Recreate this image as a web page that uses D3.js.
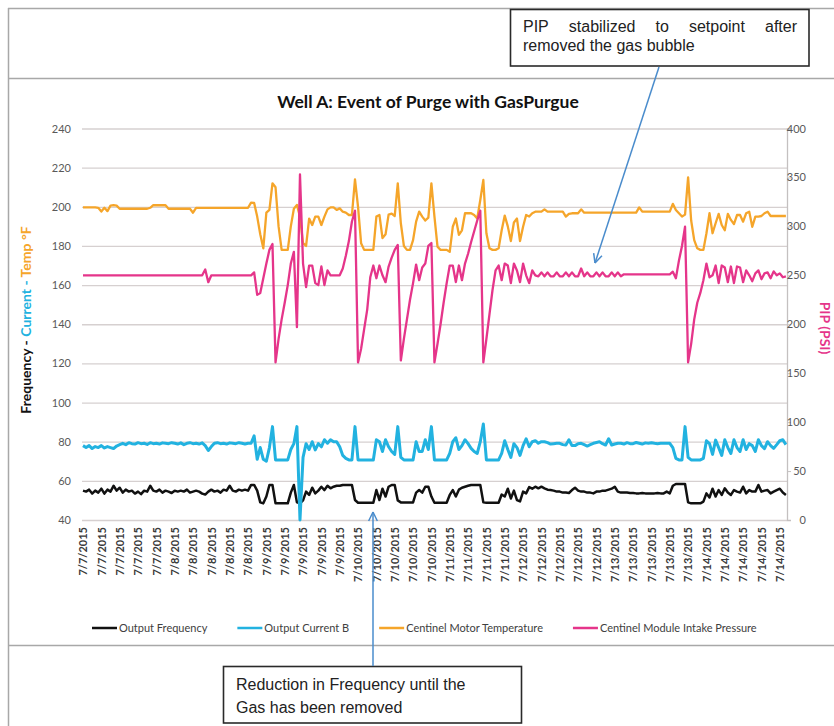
<!DOCTYPE html>
<html><head><meta charset="utf-8">
<script src="https://cdn.jsdelivr.net/npm/d3@7/dist/d3.min.js"></script>
<style>body{margin:0;background:#fff}svg{display:block}</style>
</head><body>
<svg id="c" width="834" height="726"></svg>
<script>
// ---------------- DATA ----------------
const tickLabels = [
"7/7/2015","7/7/2015","7/7/2015","7/7/2015","7/7/2015",
"7/8/2015","7/8/2015","7/8/2015","7/8/2015","7/8/2015",
"7/9/2015","7/9/2015","7/9/2015","7/9/2015","7/9/2015",
"7/10/2015","7/10/2015","7/10/2015","7/10/2015","7/10/2015",
"7/11/2015","7/11/2015","7/11/2015","7/11/2015",
"7/12/2015","7/12/2015","7/12/2015","7/12/2015","7/12/2015",
"7/13/2015","7/13/2015","7/13/2015","7/13/2015","7/13/2015",
"7/14/2015","7/14/2015","7/14/2015","7/14/2015","7/14/2015"];
const labelEvery = 6; // one date label every 6 readings

const leftTicks = [40,60,80,100,120,140,160,180,200,220,240];
const rightTicks = [0,50,100,150,200,250,300,350,400];

// Output Frequency (Hz) - left axis
const outputFrequency = [
55,54.5,55.5,53.5,55,54,56,53.5,55.5,54.5,
57.5,55,56.5,54,55.5,54.5,55,53.5,54.5,53.2,
55,54.5,57.5,55,54.5,55.5,54,55,54.5,53.8,
55,54.5,55,54.5,55.5,54,54.5,55,54.5,53.5,
53,54.5,55.5,54.5,55,54,55.5,55,57.5,55,
54.5,55.5,55,55.5,55,57.9,57.9,55,49,48.5,
52,57.9,57.9,48.5,48.5,48.5,48.5,48.5,54,57.9,
49,48.5,50,54.5,52.8,56.5,53.6,55,57,55.3,
57.5,56.2,57,57.5,57.5,57.9,57.9,57.9,57.9,50.2,
48.8,48.8,48.8,48.8,48.8,48.8,55.3,50.2,56,52,
57,57.9,57.9,50,49,49,49,49,49,54,
55.3,54,57,57,52,48.8,48.8,48.8,48.8,48.8,
52.8,55.3,52,55.5,56.5,57,57.5,57.9,57.9,57.9,
57.9,49,48.8,48.8,48.8,48.8,48.8,53,52,56,
51,55,50.2,49.5,54.5,53.6,56.8,56,57,56.2,
57,56.2,55.5,55.3,55,54.5,54.5,54,54,53.8,
55.3,56.5,55,54.5,54.5,54,54,53.6,54.5,54.5,
55,55,55.5,56,57,54.5,54,54,54,53.8,
53.8,53.6,53.6,53.8,53.6,53.6,53.6,53.6,53.8,53.6,
53.6,54.5,53.6,57.5,58.4,58.4,58.4,58.4,49,48.5,
48.5,48.5,48.5,49.4,53.6,51.5,56,52,55.3,52.8,
56.2,54,52.8,55.3,54.5,54,57,53.6,55.3,54.5,
54.5,57.9,54.5,55,55.3,53.6,54.5,55.3,56,54,
52.8];

// Output Current B (A) - left axis
const outputCurrentB = [
78,77,78,76.5,77.5,77,78,76.8,77.5,77,
76.5,77.8,78.5,79.2,78.5,79.5,79,78.8,79.5,79,
79.2,78.6,79.5,79,79.2,78.8,79.4,79.2,79,79.5,
79.2,78.8,79.4,78.5,79.2,79.5,79,79.2,78.8,79.4,
78,75.5,77.5,79.2,79.5,79,79.2,78.8,79.4,79.2,
79,79.5,79.2,78.8,79.2,79.2,83,71,77,71,
70,77,87.7,70.7,70.7,70.7,70.7,70.7,76,79,
87.7,40,72,79,76,80,75.8,79,77.4,81,
79.2,81,80,80,77.4,73,71.5,70.7,70.7,87.7,
70.7,70.7,70.7,70.7,70.7,70.7,81,80,75,81,
77.4,75,73.5,87.7,72,70.7,70.7,70.7,70.7,80,
75,75,81,76,87.7,70.7,70.7,70.7,70.7,70.7,
74,80,82,76,78,81,79,76.6,75,74,
80,89,70.7,70.7,70.7,70.7,70.7,74,80.5,76,
72,79,77,73,78,81.5,77.4,80,80.5,79.2,
80,80,79.5,78.8,79,79.2,79.2,78.5,78.3,81,
78,78,79,79.2,78.5,77.8,78.5,79.2,79.6,80,
79,78.3,81.5,78.3,78.8,79.2,79.2,78.8,79.5,79,
79,79.6,79.2,78.8,79.4,79.2,79.5,79.2,79,79.2,
79.2,79.2,79.2,77,71.5,70.7,70.7,87.7,72,70.7,
70.7,70.7,70.7,71.5,80.5,79,73.5,80.8,77,73,
81,77,74,81,77,75,81,76,79,78,
75,81,78,76.5,80,78,76.6,78.5,80.5,81,
78.5];

// Centinel Motor Temperature (°F) - left axis
const motorTemperature = [
199.7,199.7,199.7,199.7,199.7,199.5,197.6,199.5,197.8,200.6,
200.8,200.6,199,199,199,199,199,199,199,199,
199,199,199.5,200.8,200.8,200.8,200.8,200.8,199,199,
199,199,199,199,199,199,197,199.5,199.5,199.5,
199.5,199.5,199.5,199.5,199.5,199.5,199.5,199.5,199.5,199.5,
199.5,199.5,199.5,199.5,199.5,202.1,202,195,186,178.8,
197,198.4,212,210,190,178,178,178,190,199,
201,195,181.4,180,194,190.7,195,195,190.7,195,
198.7,199.7,199.7,198.4,199.2,197.5,197,195.8,195.8,214,
200,181.4,178,178,178,178,195,195.8,184,186,
196,196.5,195.3,212,191.6,180,178,178,183,192.4,
197.5,195,193,194.5,212,195,179.6,178,178,178,
177,189.8,194,185.7,188,196.7,196.7,196.7,195.8,194,
203.5,213.7,186.5,178.8,178,178,178.8,188,195.5,190,
182.5,192,194,182.5,189.8,195.8,195,196.7,197.5,197.5,
197.5,198.7,197.5,197.5,197.5,197.5,197.5,197.5,195,196.4,
196.7,196.7,196.7,198.7,197,197,197,197,197,197,
197,197,197,197,197,197,197,197,197,197,
197,197,199.7,197.5,197.5,197.5,197.5,197.5,197.5,197.5,
197.5,197.5,197.5,201.5,198.4,196.7,195,196,215,193,
183,178.8,178,178,186.5,196.7,186.5,191.6,196.4,190.7,
188,196.4,193.3,191.2,195.8,195.8,192.4,196.7,197.5,189.8,
195,195,195.3,196.7,197.5,195.3,195.3,195.3,195.3,195.3,
195.3];

// Centinel Module Intake Pressure (PSI) - right axis
const intakePressure = [
250,250,250,250,250,250,250,250,250,250,
250,250,250,250,250,250,250,250,250,250,
250,250,250,250,250,250,250,250,250,250,
250,250,250,250,250,250,250,250,250,250,
256,243,250,250,250,250,250,250,250,250,
250,250,250,250,250,250,253,230,232,247,
262,276,282,161,185,205,222,240,262,274,
197,353,262,238,260,260,242,240,259,240,
255,250,250,250,250,257,270,285,305,316,
161,175,195,215,248,260,247,260,250,243,
259,268,276,281,163,185,205,225,242,261,
245,258,262,280,283,161,180,200,222,242,
260,260,243,260,245,262,272,284,295,306,
316,161,185,210,235,255,260,245,262,260,
242,262,255,243,262,250,242,255,250,249,
253,249,253,249,249,253,249,249,253,249,
253,249,249,257,249,253,249,249,253,249,
253,249,249,253,249,253,249,251,251,251,
251,251,251,251,251,251,251,251,251,251,
251,251,251,253.7,247,265,280,299.7,161,180,
205,222,232,245,262,248,250,260,242,260,
258,243,259,242,259,258,243,255,250,244,
252,255,246,252,253,247,254,250,252,248,
249];

const seriesNames = ["Output Frequency","Output Current B","Centinel Motor Temperature","Centinel Module Intake Pressure"];
const seriesColors = ["#111111","#22b2e0","#f5a52a","#e5358a"];

// ---------------- CHART ----------------
const svg = d3.select("#c");
const N = outputFrequency.length;
const plotL = 82, plotR = 787, plotT = 128.5, plotB = 520;
const x = d3.scaleLinear().domain([0, N - 1]).range([83, 785.9]);
const yL = d3.scaleLinear().domain([40, 240]).range([plotB, plotT]);
const yR = d3.scaleLinear().domain([0, 400]).range([plotB, plotT]);

// frame
const frameC = "#a8a8a8";
svg.append("line").attr("x1",8).attr("x2",834).attr("y1",8.5).attr("y2",8.5).attr("stroke",frameC).attr("stroke-width",1.5);
svg.append("line").attr("x1",8.5).attr("x2",8.5).attr("y1",8).attr("y2",726).attr("stroke",frameC).attr("stroke-width",1.5);
svg.append("line").attr("x1",8).attr("x2",834).attr("y1",78.5).attr("y2",78.5).attr("stroke",frameC).attr("stroke-width",1.5);
svg.append("line").attr("x1",8).attr("x2",834).attr("y1",645.5).attr("y2",645.5).attr("stroke",frameC).attr("stroke-width",1.5);

// title
svg.append("text").attr("x",428).attr("y",108).attr("text-anchor","middle")
  .attr("font-family","Lato, 'Open Sans', sans-serif").attr("font-weight","bold").attr("font-size",17.5)
  .attr("fill","#111").text("Well A: Event of Purge with GasPurgue");

// left axis + gridlines
const gL = svg.append("g").attr("transform",`translate(${plotL},0)`)
  .call(d3.axisLeft(yL).tickValues(leftTicks).tickSize(-(plotR - plotL)).tickPadding(11));
gL.select(".domain").remove();
gL.selectAll(".tick line").attr("stroke","#d6d0d0").attr("stroke-width",1.3);
gL.selectAll(".tick text").attr("font-family","Lato, sans-serif").attr("font-size",11).attr("fill","#595959");

// right axis
const gR = svg.append("g").attr("transform",`translate(${plotR},0)`)
  .call(d3.axisRight(yR).tickValues(rightTicks).tickSize(4).tickPadding(0));
gR.select(".domain").attr("stroke","#c4c0c0").attr("stroke-width",1.3);
gR.selectAll(".tick line").attr("stroke","#c4c0c0");
gR.selectAll(".tick text").attr("font-family","Lato, sans-serif").attr("font-size",11).attr("fill","#595959")
  .attr("text-anchor","end").attr("x",19);

// bottom axis with date labels
const tickIdx = tickLabels.map((_, k) => k * labelEvery);
const gB = svg.append("g").attr("transform",`translate(0,${plotB})`)
  .call(d3.axisBottom(x).tickValues(tickIdx).tickSize(0).tickFormat((d) => tickLabels[d / labelEvery]));
gB.select(".domain").remove();
gB.selectAll(".tick text")
  .attr("font-family","Lato, sans-serif").attr("font-weight","bold").attr("font-size",11).attr("fill","#3a3a3a")
  .attr("text-anchor","end").attr("transform","rotate(-90)").attr("x",-7).attr("y",0).attr("dy","0.35em");

// axis titles
const lt = svg.append("text").attr("transform","translate(31,320) rotate(-90)").attr("text-anchor","middle")
  .attr("font-family","Lato, sans-serif").attr("font-weight","bold").attr("font-size",14);
lt.append("tspan").attr("fill","#111").text("Frequency - ");
lt.append("tspan").attr("fill",seriesColors[1]).text("Current - ");
lt.append("tspan").attr("fill",seriesColors[2]).text("Temp °F");
svg.append("text").attr("transform","translate(820,328) rotate(90)").attr("text-anchor","middle")
  .attr("font-family","Lato, sans-serif").attr("font-weight","bold").attr("font-size",14)
  .attr("fill",seriesColors[3]).text("PIP (PSI)");

// lines
const series = [
  {vals: outputFrequency, y: yL, w: 2.5},
  {vals: outputCurrentB, y: yL, w: 3},
  {vals: motorTemperature, y: yL, w: 2.3},
  {vals: intakePressure, y: yR, w: 2.3}
];
series.forEach((s, k) => {
  const line = d3.line().x((d, i) => x(i)).y(d => s.y(d)).curve(d3.curveLinear);
  svg.append("path").datum(s.vals).attr("d", line).attr("fill","none")
    .attr("stroke", seriesColors[k]).attr("stroke-width", s.w).attr("stroke-linejoin","round");
});

// legend
let lx = 92;
seriesNames.forEach((name, k) => {
  svg.append("line").attr("x1",lx).attr("x2",lx+25).attr("y1",628).attr("y2",628)
    .attr("stroke",seriesColors[k]).attr("stroke-width",2.5);
  const t = svg.append("text").attr("x",lx+27).attr("y",628).attr("dy","0.35em")
    .attr("font-family","Lato, sans-serif").attr("font-size",11).attr("fill","#404040").text(name);
  lx = lx + 27 + t.node().getComputedTextLength() + 30;
});

// annotations
const annFont = "'Liberation Sans', Arial, sans-serif";
function justifyLine(words, x0, x1, y) {
  const ts = words.map(w => svg.append("text").attr("y", y).attr("font-family", annFont)
    .attr("font-size", 16).attr("fill","#222").text(w));
  const ws = ts.map(t => t.node().getComputedTextLength());
  const gap = (x1 - x0 - d3.sum(ws)) / (words.length - 1);
  let cx = x0;
  ts.forEach((t, i) => { t.attr("x", cx); cx += ws[i] + gap; });
}
function arrow(x0, y0, x1, y1) {
  const c = "#4a8ccc";
  svg.append("line").attr("x1",x0).attr("y1",y0).attr("x2",x1).attr("y2",y1).attr("stroke",c).attr("stroke-width",1.5);
  const a = Math.atan2(y1 - y0, x1 - x0), L = 10, sp = 0.45;
  [a + Math.PI - sp, a + Math.PI + sp].forEach(b => {
    svg.append("line").attr("x1",x1).attr("y1",y1).attr("x2",x1 + L*Math.cos(b)).attr("y2",y1 + L*Math.sin(b))
      .attr("stroke",c).attr("stroke-width",1.5);
  });
}
// top box
svg.append("rect").attr("x",510.5).attr("y",9.5).attr("width",298.5).attr("height",56.5)
  .attr("fill","#fff").attr("stroke","#2a2a2a").attr("stroke-width",1.6);
justifyLine(["PIP","stabilized","to","setpoint","after"], 523, 797, 31.5);
svg.append("text").attr("x",523).attr("y",50.5).attr("font-family",annFont).attr("font-size",16).attr("fill","#222")
  .text("removed the gas bubble");
arrow(659, 67, 595, 263);

// bottom box
svg.append("rect").attr("x",223.5).attr("y",666.5).attr("width",298).attr("height",56.5)
  .attr("fill","#fff").attr("stroke","#2a2a2a").attr("stroke-width",1.6);
svg.append("text").attr("x",236).attr("y",690).attr("font-family",annFont).attr("font-size",16).attr("fill","#222")
  .text("Reduction in Frequency until the");
svg.append("text").attr("x",236).attr("y",712.5).attr("font-family",annFont).attr("font-size",16).attr("fill","#222")
  .text("Gas has been removed");
arrow(373, 666, 373, 512);
</script>
</body></html>
